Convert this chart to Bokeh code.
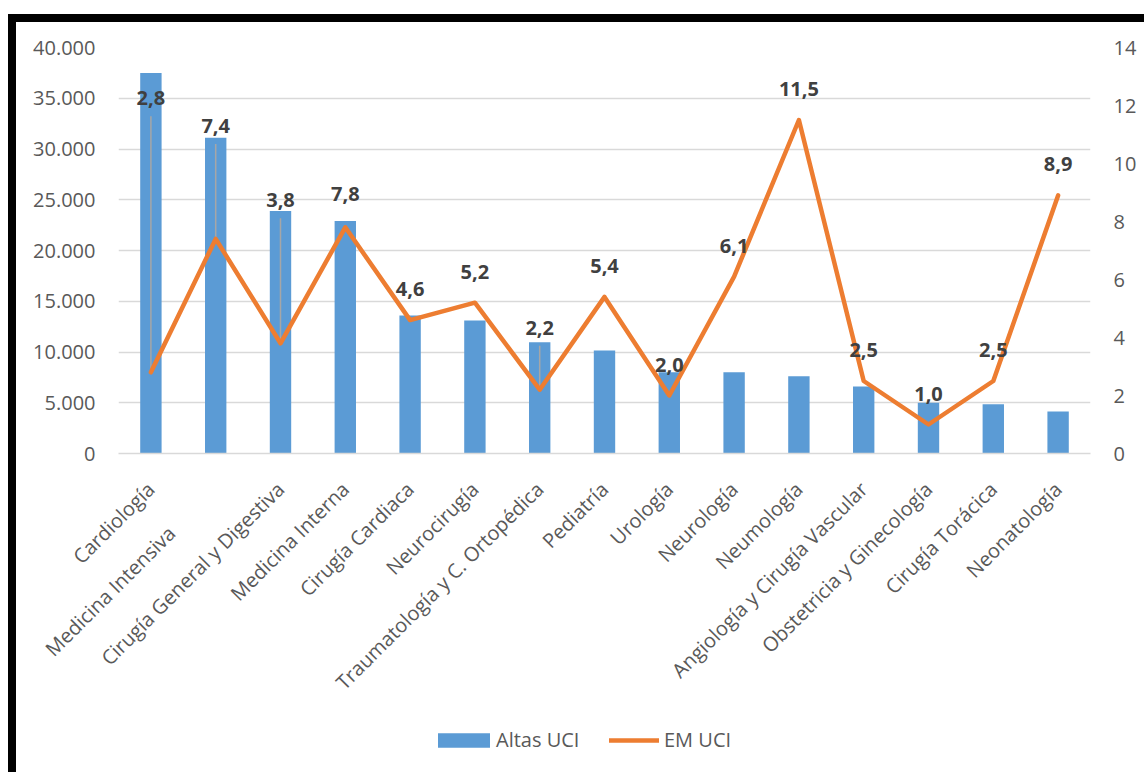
import math
from bokeh.plotting import figure
from bokeh.layouts import column, row
from bokeh.models import (Range1d, LinearAxis, ColumnDataSource, Legend, LegendItem,
                          FixedTicker, Spacer)
from bokeh.core.properties import value
from bokeh.embed import file_html
from bokeh.resources import INLINE

# ---------------- data ----------------
categories = ["Cardiología", "Medicina Intensiva", "Cirugía General y Digestiva",
              "Medicina Interna", "Cirugía Cardiaca", "Neurocirugía",
              "Traumatología y C. Ortopédica", "Pediatría", "Urología", "Neurología",
              "Neumología", "Angiología y Cirugía Vascular", "Obstetricia y Ginecología",
              "Cirugía Torácica", "Neonatología"]
altas_uci = [37500, 31100, 23900, 22900, 13600, 13100, 10950, 10150,
             8000, 8000, 7600, 6600, 5000, 4850, 4150]
em_uci = [2.8, 7.4, 3.8, 7.8, 4.6, 5.2, 2.2, 5.4, 2.0, 6.1, 11.5, 2.5, 1.0, 2.5, 8.9]
em_labels = [f"{v:.1f}".replace(".", ",") for v in em_uci]

left_ticks = [0, 5000, 10000, 15000, 20000, 25000, 30000, 35000, 40000]
left_tick_labels = ["0", "5.000", "10.000", "15.000", "20.000", "25.000",
                    "30.000", "35.000", "40.000"]
right_ticks = [0, 2, 4, 6, 8, 10, 12, 14]

# label placement (pixels above the point); some labels were moved with leader lines
label_dy = [274, 113, 143, 33, 31, 31, 62, 31, 31, 31, 31, 31, 31, 31, 31]
has_leader = [True, True, True, False, False, False, True, False, False,
              False, False, False, False, False, False]
# extra (non-breaking) padding after a category label, as in the original layout
label_pad = [0, 12, 0, 0, 0, 0, 0, 0, 0, 0, 0, 0, 0, 0, 0]

# ---------------- layout ----------------
FONT = "Open Sans"
AX_COL = "#595959"
BLUE = "#5B9BD5"
ORANGE = "#ED7D31"

W = 1128
H_MAIN = 701
H_LEG = 49
ML, MR, MT, MB = 102, 54, 25, 270
frame_h = H_MAIN - MT - MB
ppu = frame_h / 14.0

n = len(categories)
xpos = [i + 0.5 for i in range(n)]

p = figure(x_range=Range1d(0, n), y_range=Range1d(0, 40000), width=W, height=H_MAIN,
           output_backend="svg", toolbar_location=None,
           min_border_left=ML, min_border_right=MR, min_border_top=MT, min_border_bottom=MB)
p.outline_line_color = None
p.background_fill_color = "white"
p.border_fill_color = "white"
p.extra_y_ranges = {"em": Range1d(0, 14)}

# grid
p.xgrid.grid_line_color = None
p.ygrid.grid_line_color = "#d9d9d9"
p.ygrid.grid_line_width = 1.5

# left axis
ya = p.yaxis[0]
ya.ticker = FixedTicker(ticks=left_ticks)
ya.major_label_overrides = {t: s for t, s in zip(left_ticks, left_tick_labels)}
ya.axis_line_color = None
ya.major_tick_line_color = None
ya.minor_tick_line_color = None
ya.major_tick_out = 0
ya.major_tick_in = 0
ya.major_label_standoff = 23
ya.major_label_text_font = FONT
ya.major_label_text_font_size = "20px"
ya.major_label_text_color = AX_COL

# right axis
ra = LinearAxis(y_range_name="em", ticker=FixedTicker(ticks=right_ticks))
ra.axis_line_color = None
ra.major_tick_line_color = None
ra.minor_tick_line_color = None
ra.major_tick_out = 0
ra.major_tick_in = 0
ra.major_label_standoff = 23
ra.major_label_text_font = FONT
ra.major_label_text_font_size = "20px"
ra.major_label_text_color = AX_COL
p.add_layout(ra, "right")

# bottom (category) axis
xa = p.xaxis[0]
xa.ticker = FixedTicker(ticks=xpos)
xa.major_label_overrides = {x: c + "\u00a0" * k for x, c, k in zip(xpos, categories, label_pad)}
xa.major_label_orientation = math.pi / 4
xa.axis_line_color = "#d9d9d9"
xa.axis_line_width = 1.5
xa.major_tick_line_color = None
xa.minor_tick_line_color = None
xa.major_tick_out = 0
xa.major_tick_in = 0
xa.major_label_standoff = 32
xa.major_label_text_font = FONT
xa.major_label_text_font_size = "20px"
xa.major_label_text_color = AX_COL

# data marks
leader_x = [x for x, h in zip(xpos, has_leader) if h]
leader_y0 = [v for v, h in zip(em_uci, has_leader) if h]
leader_y1 = [v + (d - 18) / ppu for v, d, h in zip(em_uci, label_dy, has_leader) if h]

src = ColumnDataSource(dict(x=xpos, cat=categories, altas=altas_uci, em=em_uci,
                            lbl=em_labels, dy=[-d for d in label_dy]))

p.vbar(x="x", top="altas", width=0.33, source=src, fill_color=BLUE, line_color=None)

p.segment(x0=leader_x, y0=leader_y0, x1=leader_x, y1=leader_y1,
          y_range_name="em", line_color="#a6a6a6", line_width=1.5)

p.line(x="x", y="em", source=src, y_range_name="em",
       line_color=ORANGE, line_width=4.5, line_join="round", line_cap="round")

p.text(x="x", y="em", text="lbl", source=src, y_range_name="em",
       y_offset="dy", text_align="center", text_baseline="middle",
       text_font=value(FONT), text_font_size="20px", text_font_style="bold",
       text_color="#404040")

# ---------------- legend strip ----------------
# hidden copies of the two series, only so the legend can show their swatches
lg = figure(width=W, height=H_LEG, x_range=Range1d(-3, -2), y_range=Range1d(-3, -2),
            x_axis_type=None, y_axis_type=None, output_backend="svg",
            toolbar_location=None, min_border=0)
lg.outline_line_color = None
lg.background_fill_color = "white"
lg.border_fill_color = "white"
lg.xgrid.grid_line_color = None
lg.ygrid.grid_line_color = None
r_bar = lg.vbar(x="x", top="altas", width=0.33, source=src, fill_color=BLUE, line_color=None)
r_line = lg.line(x="x", y="em", source=src, line_color=ORANGE, line_width=4.5,
                 line_cap="round")
r_bar.visible = False
r_line.visible = False

common = dict(orientation="horizontal", glyph_height=18, padding=0, margin=0,
              border_line_color=None, background_fill_alpha=0,
              inactive_fill_alpha=0, click_policy="none",
              label_text_font=FONT, label_text_font_size="20px",
              label_text_color=AX_COL)
leg1 = Legend(items=[LegendItem(label="Altas UCI", renderers=[r_bar])],
              location=(313, 19), glyph_width=65, label_standoff=0, **common)
leg2 = Legend(items=[LegendItem(label="EM UCI", renderers=[r_line])],
              location=(491, 19), glyph_width=50, label_standoff=5, **common)
lg.add_layout(leg1, "center")
lg.add_layout(leg2, "center")

# ---------------- thick black frame (top and left edges) ----------------
left_bar = Spacer(width=8, height=8 + H_MAIN + H_LEG, styles={"background-color": "black"})
top_bar = Spacer(width=W, height=8, styles={"background-color": "black"})

layout = column(
    Spacer(width=1144, height=14),
    row(Spacer(width=8, height=8 + H_MAIN + H_LEG), left_bar,
        column(top_bar, p, lg, spacing=0), spacing=0),
    spacing=0,
)

open("out.html", "w").write(file_html(layout, INLINE))
